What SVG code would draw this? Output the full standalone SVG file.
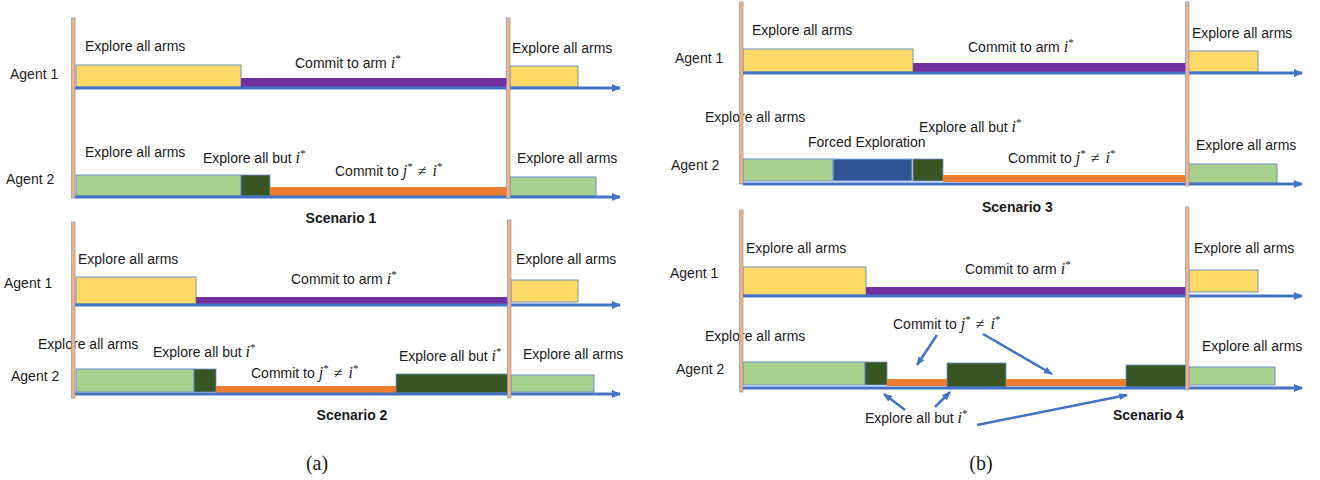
<svg xmlns="http://www.w3.org/2000/svg" width="1320" height="480" viewBox="0 0 1320 480">
<style>
text{font-family:"Liberation Sans",Arial,sans-serif;font-size:14px;fill:#1a1a1a}
.b{font-weight:bold}
.mi{font-family:"Liberation Serif","Times New Roman",serif;font-style:italic;font-size:16px}
.mr{font-family:"Liberation Serif","Times New Roman",serif;font-size:16px}
.st{font-family:"Liberation Serif","Times New Roman",serif;font-size:11px}
.cap{font-family:"Liberation Serif","Times New Roman",serif;font-size:20px}
.axis{stroke:#4472C4;stroke-width:3;fill:none}
.call{stroke:#4472C4;stroke-width:2.5;fill:none}
.vl{fill:#F4B183;stroke:#8497B0;stroke-width:0.7}
.y{fill:#FFD966;stroke:#6F8FC8;stroke-width:1}
.g{fill:#A9D18E;stroke:#6F8FC8;stroke-width:1}
.dg{fill:#375623;stroke:#6F8FC8;stroke-width:0.8}
.fb{fill:#2F5597;stroke:#8FAADC;stroke-width:1}
.p{fill:#7030A0}
.o{fill:#ED7D31}
</style>
<defs>
<marker id="ah" markerUnits="userSpaceOnUse" markerWidth="10" markerHeight="10" refX="8" refY="5" orient="auto">
<path d="M0,1 L9,5 L0,9 Z" fill="#4472C4"/>
</marker>
<marker id="ch" markerUnits="userSpaceOnUse" markerWidth="10" markerHeight="10" refX="8" refY="5" orient="auto">
<path d="M0,1.5 L9,5 L0,8.5 Z" fill="#4472C4"/>
</marker>
</defs>

<!-- Scenario 1 -->
<g id="scenario1">
<g id="s1-agent1">
<rect class="y" x="76" y="65" width="165" height="22"/>
<rect class="p" x="241" y="78" width="267" height="9"/>
<rect class="y" x="510" y="66" width="68" height="21"/>
<text x="10" y="79">Agent 1</text>
<text x="85" y="51">Explore all arms</text>
<text x="295" y="68">Commit to arm <tspan class="mi">i</tspan><tspan class="st" dy="-6">*</tspan></text>
<text x="512" y="53">Explore all arms</text>
</g>
<g id="s1-agent2">
<rect class="g" x="76" y="175" width="165" height="21"/>
<rect class="dg" x="241" y="175" width="29" height="21"/>
<rect class="o" x="270" y="187" width="238" height="9"/>
<rect class="g" x="510" y="177" width="86" height="19"/>
<text x="6" y="184">Agent 2</text>
<text x="85" y="157">Explore all arms</text>
<text x="203" y="163">Explore all but <tspan class="mi">i</tspan><tspan class="st" dy="-6">*</tspan></text>
<text x="335" y="176">Commit to <tspan class="mi">j</tspan><tspan class="st" dy="-6">*</tspan><tspan class="mr" dy="6" dx="5">≠</tspan><tspan class="mi" dx="6">i</tspan><tspan class="st" dy="-6">*</tspan></text>
<text x="517" y="163">Explore all arms</text>
</g>
<text class="b" x="341" y="223" text-anchor="middle">Scenario 1</text>
</g>

<!-- Scenario 2 -->
<g id="scenario2">
<g id="s2-agent1">
<rect class="y" x="76" y="277" width="120" height="27"/>
<rect class="p" x="196" y="297" width="312" height="7"/>
<rect class="y" x="511" y="280" width="67" height="22"/>
<text x="4" y="288">Agent 1</text>
<text x="78" y="264">Explore all arms</text>
<text x="291" y="284">Commit to arm <tspan class="mi">i</tspan><tspan class="st" dy="-6">*</tspan></text>
<text x="516" y="264">Explore all arms</text>
</g>
<g id="s2-agent2">
<rect class="g" x="76" y="369" width="118" height="23"/>
<rect class="dg" x="194" y="369" width="22" height="23"/>
<rect class="o" x="216" y="386" width="180" height="7"/>
<rect class="dg" x="396" y="374" width="112" height="19"/>
<rect class="g" x="511" y="375" width="83" height="17"/>
<text x="11" y="381">Agent 2</text>
<text x="38" y="349">Explore all arms</text>
<text x="153" y="357">Explore all but <tspan class="mi">i</tspan><tspan class="st" dy="-6">*</tspan></text>
<text x="251" y="378">Commit to <tspan class="mi">j</tspan><tspan class="st" dy="-6">*</tspan><tspan class="mr" dy="6" dx="5">≠</tspan><tspan class="mi" dx="6">i</tspan><tspan class="st" dy="-6">*</tspan></text>
<text x="399" y="361">Explore all but <tspan class="mi">i</tspan><tspan class="st" dy="-6">*</tspan></text>
<text x="523" y="359">Explore all arms</text>
</g>
<text class="b" x="352" y="420" text-anchor="middle">Scenario 2</text>
</g>

<!-- Scenario 3 -->
<g id="scenario3">
<g id="s3-agent1">
<rect class="y" x="743" y="49" width="170" height="23"/>
<rect class="p" x="913" y="63" width="274" height="9"/>
<rect class="y" x="1188" y="51" width="70" height="21"/>
<text x="675" y="63">Agent 1</text>
<text x="752" y="35">Explore all arms</text>
<text x="968" y="52">Commit to arm <tspan class="mi">i</tspan><tspan class="st" dy="-6">*</tspan></text>
<text x="1192" y="38">Explore all arms</text>
</g>
<g id="s3-agent2">
<rect class="g" x="743" y="159" width="90" height="22"/>
<rect class="fb" x="833" y="159" width="79" height="22"/>
<rect class="dg" x="913" y="159" width="30" height="22"/>
<rect class="o" x="943" y="175" width="243" height="7"/>
<rect class="g" x="1188" y="164" width="89" height="19"/>
<text x="671" y="170">Agent 2</text>
<text x="705" y="122">Explore all arms</text>
<text x="808" y="147">Forced Exploration</text>
<text x="919" y="132">Explore all but <tspan class="mi">i</tspan><tspan class="st" dy="-6">*</tspan></text>
<text x="1008" y="163">Commit to <tspan class="mi">j</tspan><tspan class="st" dy="-6">*</tspan><tspan class="mr" dy="6" dx="5">≠</tspan><tspan class="mi" dx="6">i</tspan><tspan class="st" dy="-6">*</tspan></text>
<text x="1196" y="150">Explore all arms</text>
</g>
<text class="b" x="982" y="212">Scenario 3</text>
</g>

<!-- Scenario 4 -->
<g id="scenario4">
<g id="s4-agent1">
<rect class="y" x="743" y="267" width="123" height="28"/>
<rect class="p" x="866" y="287" width="321" height="8"/>
<rect class="y" x="1189" y="270" width="69" height="22"/>
<text x="670" y="278">Agent 1</text>
<text x="746" y="253">Explore all arms</text>
<text x="965" y="274">Commit to arm <tspan class="mi">i</tspan><tspan class="st" dy="-6">*</tspan></text>
<text x="1194" y="253">Explore all arms</text>
</g>
<g id="s4-agent2">
<rect class="g" x="743" y="362" width="122" height="23"/>
<rect class="dg" x="865" y="362" width="22" height="23"/>
<rect class="o" x="887" y="379" width="60" height="7"/>
<rect class="dg" x="947" y="363" width="59" height="24"/>
<rect class="o" x="1006" y="379" width="120" height="7"/>
<rect class="dg" x="1126" y="365" width="61" height="22"/>
<rect class="g" x="1189" y="367" width="86" height="18"/>
<text x="676" y="374">Agent 2</text>
<text x="705" y="341">Explore all arms</text>
<text x="893" y="329">Commit to <tspan class="mi">j</tspan><tspan class="st" dy="-6">*</tspan><tspan class="mr" dy="6" dx="5">≠</tspan><tspan class="mi" dx="6">i</tspan><tspan class="st" dy="-6">*</tspan></text>
<text x="865" y="423">Explore all but <tspan class="mi">i</tspan><tspan class="st" dy="-6">*</tspan></text>
<text x="1202" y="351">Explore all arms</text>
</g>
<text class="b" x="1113" y="420">Scenario 4</text>
</g>

<!-- Connectors -->
<g id="connectors">
<line class="axis" x1="75" y1="88" x2="620" y2="88" marker-end="url(#ah)"/>
<line class="axis" x1="75" y1="197" x2="620" y2="197" marker-end="url(#ah)"/>
<line class="axis" x1="75" y1="305" x2="620" y2="305" marker-end="url(#ah)"/>
<line class="axis" x1="75" y1="394" x2="620" y2="394" marker-end="url(#ah)"/>
<line class="axis" x1="743" y1="73" x2="1302" y2="73" marker-end="url(#ah)"/>
<line class="axis" x1="743" y1="184" x2="1302" y2="184" marker-end="url(#ah)"/>
<line class="axis" x1="743" y1="296" x2="1302" y2="296" marker-end="url(#ah)"/>
<line class="axis" x1="743" y1="388" x2="1302" y2="388" marker-end="url(#ah)"/>
<line class="call" x1="937" y1="335" x2="917" y2="365" marker-end="url(#ch)"/>
<line class="call" x1="983" y1="334" x2="1052" y2="374" marker-end="url(#ch)"/>
<line class="call" x1="905" y1="410" x2="884" y2="394" marker-end="url(#ch)"/>
<line class="call" x1="935" y1="407" x2="950" y2="392" marker-end="url(#ch)"/>
<line class="call" x1="977" y1="425" x2="1127" y2="395" marker-end="url(#ch)"/>
</g>

<!-- Separators (vertical time marks) -->
<g id="separators">
<rect class="vl" x="71.5" y="18" width="3.5" height="180"/>
<rect class="vl" x="506.5" y="18" width="3.5" height="180"/>
<rect class="vl" x="71.5" y="222" width="3.5" height="176"/>
<rect class="vl" x="507.5" y="220" width="3.5" height="178"/>
<rect class="vl" x="739.5" y="2" width="3.5" height="182"/>
<rect class="vl" x="1185.5" y="2" width="3.5" height="184"/>
<rect class="vl" x="739.5" y="210" width="3.5" height="182"/>
<rect class="vl" x="1185.5" y="207" width="3.5" height="183"/>
</g>

<text class="cap" x="317" y="470" text-anchor="middle">(a)</text>
<text class="cap" x="981" y="470" text-anchor="middle">(b)</text>
</svg>
